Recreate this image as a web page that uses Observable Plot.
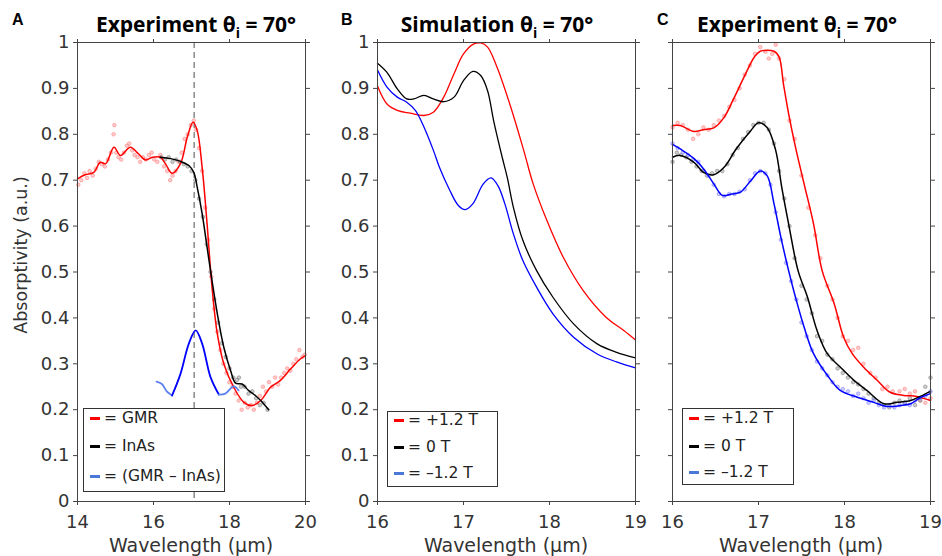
<!DOCTYPE html>
<html>
<head>
<meta charset="utf-8">
<script src="https://cdn.jsdelivr.net/npm/d3@7"></script>
<script src="https://cdn.jsdelivr.net/npm/@observablehq/plot@0.6"></script>
<style>
  html, body { margin: 0; padding: 0; background: #fff; }
  #root { position: relative; width: 942px; height: 556px; overflow: hidden; font-family: "DejaVu Sans", sans-serif; color: #333; }
  .pl { position: absolute; top: 0; }
  .title { position: absolute; font-family: "Open Sans", sans-serif; font-weight: 700; font-size: 21px; color: #000; white-space: nowrap; transform: translateX(-50%); line-height: 1; }
  .title sub { font-size: 14px; vertical-align: -6px; line-height: 0; }
  .letter { position: absolute; font-family: "Liberation Sans", sans-serif; font-weight: 700; font-size: 16px; color: #000; line-height: 1; }
  .xlab { position: absolute; font-size: 19px; color: #333; white-space: nowrap; transform: translateX(-50%); line-height: 1; }
  .ylab { position: absolute; font-size: 17.5px; color: #333; white-space: nowrap; transform: translate(-50%, -50%) rotate(-90deg); line-height: 1; }
  .legend { position: absolute; border: 1px solid #333; background: #fff; box-sizing: border-box; }
  .lrow { position: absolute; left: 0; font-size: 15.5px; color: #222; white-space: nowrap; line-height: 1; }
  .lrow i { display: inline-block; width: 10px; height: 3px; margin: 0 4px 0 6px; vertical-align: middle; }
</style>
</head>
<body>
<div id="root"></div>
<script>
// ---------- data ----------
// Panel A (Experiment, wavelength in µm, absorptivity)
const aGmrLine = [[14.0,0.703],[14.2,0.712],[14.43,0.717],[14.6,0.739],[14.74,0.736],[14.96,0.772],[15.13,0.754],[15.39,0.772],[15.61,0.757],[15.79,0.744],[15.97,0.750],[16.18,0.750],[16.32,0.735],[16.49,0.715],[16.71,0.736],[16.89,0.794],[17.04,0.826],[17.15,0.808],[17.28,0.728],[17.41,0.605],[17.54,0.467],[17.68,0.365],[17.85,0.300],[18.11,0.249],[18.38,0.216],[18.59,0.209],[18.82,0.220],[19.08,0.249],[19.34,0.264],[19.61,0.289],[19.87,0.311],[20.0,0.318]];
const aInAsLine = [[16.18,0.750],[16.45,0.747],[16.71,0.741],[16.93,0.732],[17.06,0.717],[17.15,0.685],[17.28,0.627],[17.41,0.554],[17.54,0.481],[17.68,0.409],[17.85,0.336],[18.03,0.285],[18.16,0.258],[18.33,0.256],[18.50,0.242],[18.68,0.231],[18.82,0.220],[19.03,0.200]];
const aDiffLine = [[16.08,0.261],[16.22,0.256],[16.35,0.240],[16.49,0.231],[16.71,0.278],[16.93,0.344],[17.11,0.373],[17.28,0.344],[17.50,0.271],[17.72,0.233],[17.89,0.235],[18.11,0.251],[18.24,0.242]];
const aGmrPts = [[14.02,0.69],[14.1,0.70],[14.18,0.715],[14.25,0.705],[14.32,0.72],[14.4,0.71],[14.48,0.725],[14.56,0.74],[14.64,0.735],[14.72,0.73],[14.8,0.745],[14.88,0.76],[14.95,0.80],[14.97,0.82],[15.02,0.76],[15.08,0.75],[15.15,0.745],[15.22,0.76],[15.3,0.775],[15.36,0.78],[15.44,0.765],[15.5,0.755],[15.58,0.75],[15.65,0.74],[15.72,0.75],[15.8,0.745],[15.88,0.755],[15.95,0.76],[16.02,0.745],[16.1,0.74],[16.18,0.755],[16.28,0.73],[16.36,0.72],[16.44,0.70],[16.5,0.71],[16.58,0.72],[16.66,0.74],[16.74,0.76],[16.82,0.79],[16.9,0.80],[16.98,0.82],[17.06,0.83],[17.12,0.81],[17.2,0.77],[17.28,0.72],[17.36,0.64],[17.44,0.57],[17.52,0.49],[17.6,0.42],[17.68,0.37],[17.76,0.33],[17.84,0.30],[17.92,0.28],[18.0,0.26],[18.08,0.25],[18.16,0.235],[18.24,0.22],[18.32,0.20],[18.4,0.215],[18.48,0.205],[18.56,0.21],[18.64,0.20],[18.72,0.215],[18.8,0.23],[18.88,0.25],[18.96,0.24],[19.04,0.26],[19.12,0.25],[19.2,0.27],[19.28,0.255],[19.36,0.27],[19.44,0.28],[19.52,0.29],[19.6,0.285],[19.68,0.30],[19.76,0.31],[19.84,0.33],[19.92,0.315],[19.98,0.32]];
const aInAsPts = [[16.2,0.75],[16.3,0.745],[16.4,0.75],[16.5,0.74],[16.6,0.745],[16.7,0.74],[16.8,0.735],[16.9,0.73],[17.0,0.72],[17.1,0.70],[17.2,0.66],[17.3,0.62],[17.4,0.56],[17.5,0.50],[17.6,0.44],[17.7,0.39],[17.8,0.345],[17.9,0.315],[18.0,0.29],[18.1,0.27],[18.2,0.265],[18.25,0.27],[18.3,0.25],[18.4,0.25],[18.5,0.235],[18.6,0.24],[18.7,0.225],[18.8,0.21],[18.9,0.215],[19.0,0.20]];
const aMarker = [17.07];

// Panel B (Simulation)
const bPlus = [[16.0,0.905],[16.11,0.866],[16.23,0.852],[16.38,0.846],[16.54,0.841],[16.65,0.848],[16.77,0.881],[16.89,0.932],[17.0,0.975],[17.12,0.997],[17.2,0.999],[17.28,0.990],[17.39,0.946],[17.55,0.859],[17.7,0.765],[17.81,0.692],[17.97,0.612],[18.16,0.532],[18.39,0.460],[18.66,0.401],[18.86,0.373],[19.0,0.352]];
const bZero = [[16.0,0.955],[16.11,0.935],[16.23,0.899],[16.34,0.877],[16.42,0.877],[16.54,0.885],[16.65,0.877],[16.77,0.871],[16.89,0.881],[17.0,0.917],[17.11,0.937],[17.2,0.928],[17.28,0.895],[17.35,0.830],[17.45,0.750],[17.51,0.705],[17.58,0.641],[17.69,0.569],[17.85,0.503],[18.04,0.445],[18.28,0.387],[18.55,0.344],[18.78,0.325],[19.0,0.313]];
const bMinus = [[16.0,0.940],[16.11,0.903],[16.23,0.881],[16.34,0.870],[16.44,0.852],[16.54,0.816],[16.65,0.765],[16.72,0.728],[16.84,0.678],[16.94,0.645],[17.02,0.636],[17.11,0.649],[17.23,0.692],[17.32,0.705],[17.4,0.688],[17.48,0.649],[17.58,0.583],[17.69,0.525],[17.85,0.467],[18.04,0.409],[18.28,0.358],[18.55,0.322],[18.78,0.304],[19.0,0.291]];

// Panel C (Experiment)
const cPlusLine = [[16.0,0.819],[16.09,0.819],[16.25,0.806],[16.36,0.810],[16.48,0.814],[16.6,0.837],[16.71,0.877],[16.83,0.924],[16.95,0.968],[17.02,0.981],[17.18,0.981],[17.24,0.968],[17.29,0.910],[17.35,0.845],[17.43,0.772],[17.53,0.692],[17.64,0.605],[17.74,0.503],[17.88,0.431],[17.99,0.358],[18.09,0.322],[18.22,0.293],[18.38,0.264],[18.53,0.238],[18.69,0.231],[18.84,0.229],[19.0,0.220]];
const cZeroLine = [[16.0,0.750],[16.09,0.754],[16.25,0.739],[16.36,0.717],[16.48,0.712],[16.6,0.728],[16.74,0.768],[16.91,0.808],[17.0,0.825],[17.1,0.815],[17.2,0.765],[17.27,0.685],[17.35,0.605],[17.46,0.503],[17.57,0.445],[17.68,0.373],[17.8,0.322],[17.95,0.293],[18.11,0.264],[18.26,0.242],[18.46,0.213],[18.61,0.216],[18.77,0.220],[18.88,0.229],[19.0,0.240]];
const cMinusLine = [[16.0,0.778],[16.09,0.768],[16.25,0.747],[16.36,0.725],[16.48,0.692],[16.58,0.667],[16.69,0.670],[16.79,0.674],[16.91,0.699],[17.02,0.720],[17.1,0.710],[17.18,0.649],[17.26,0.576],[17.35,0.503],[17.43,0.445],[17.53,0.380],[17.64,0.322],[17.8,0.275],[17.95,0.242],[18.15,0.227],[18.34,0.216],[18.5,0.207],[18.65,0.209],[18.77,0.213],[18.88,0.226],[19.0,0.235]];
const cPlusPts = [[16.0,0.815],[16.06,0.825],[16.12,0.82],[16.18,0.81],[16.24,0.79],[16.3,0.80],[16.36,0.815],[16.42,0.81],[16.48,0.82],[16.54,0.83],[16.6,0.84],[16.66,0.86],[16.72,0.875],[16.78,0.90],[16.84,0.93],[16.9,0.95],[16.96,0.975],[17.02,0.99],[17.08,0.98],[17.12,0.965],[17.16,0.975],[17.2,0.995],[17.24,0.965],[17.3,0.92],[17.36,0.83],[17.42,0.79],[17.5,0.71],[17.58,0.64],[17.66,0.58],[17.72,0.53],[17.8,0.47],[17.86,0.44],[17.92,0.40],[17.98,0.36],[18.04,0.35],[18.1,0.33],[18.16,0.335],[18.22,0.30],[18.3,0.28],[18.36,0.27],[18.44,0.245],[18.5,0.25],[18.56,0.24],[18.64,0.24],[18.7,0.245],[18.76,0.235],[18.82,0.24],[18.88,0.22],[18.94,0.215],[19.0,0.225]];
const cZeroPts = [[16.0,0.74],[16.05,0.76],[16.1,0.755],[16.16,0.75],[16.22,0.74],[16.28,0.73],[16.34,0.72],[16.4,0.71],[16.46,0.715],[16.52,0.72],[16.58,0.72],[16.64,0.735],[16.7,0.755],[16.76,0.77],[16.82,0.79],[16.88,0.805],[16.94,0.82],[17.0,0.825],[17.06,0.825],[17.12,0.81],[17.18,0.78],[17.24,0.72],[17.3,0.66],[17.36,0.60],[17.42,0.53],[17.5,0.47],[17.56,0.44],[17.62,0.41],[17.68,0.36],[17.74,0.35],[17.8,0.32],[17.86,0.31],[17.92,0.29],[17.98,0.28],[18.04,0.27],[18.1,0.26],[18.16,0.255],[18.22,0.245],[18.28,0.235],[18.34,0.225],[18.4,0.215],[18.46,0.21],[18.52,0.205],[18.58,0.215],[18.64,0.22],[18.7,0.215],[18.76,0.225],[18.82,0.21],[18.88,0.22],[18.94,0.25],[19.0,0.27]];
const cMinusPts = [[16.0,0.78],[16.06,0.77],[16.12,0.76],[16.18,0.755],[16.24,0.745],[16.3,0.74],[16.36,0.72],[16.42,0.71],[16.48,0.69],[16.54,0.67],[16.6,0.665],[16.66,0.67],[16.72,0.67],[16.78,0.675],[16.84,0.68],[16.9,0.70],[16.96,0.715],[17.02,0.72],[17.08,0.715],[17.14,0.69],[17.2,0.63],[17.26,0.57],[17.32,0.52],[17.38,0.48],[17.44,0.44],[17.5,0.39],[17.56,0.36],[17.62,0.33],[17.68,0.305],[17.74,0.29],[17.8,0.275],[17.86,0.26],[17.92,0.25],[17.98,0.245],[18.04,0.24],[18.1,0.23],[18.16,0.235],[18.22,0.225],[18.28,0.215],[18.34,0.22],[18.4,0.21],[18.46,0.205],[18.52,0.21],[18.58,0.205],[18.64,0.21],[18.7,0.215],[18.76,0.21],[18.82,0.22],[18.88,0.225],[18.94,0.23],[19.0,0.24]];

// ticks & labels
const yTicks = [0,0.1,0.2,0.3,0.4,0.5,0.6,0.7,0.8,0.9,1];
const aXTicks = [14,16,18,20];
const bcXTicks = [16,17,18,19];
const titles = ["Experiment θ", "Simulation θ", "Experiment θ"];
const letters = ["A","B","C"];
const xLabel = "Wavelength (μm)";
const yLabel = "Absorptivity (a.u.)";
const legendA = [["= GMR","#ff0000"],["= InAs","#000000"],["= (GMR – InAs)","#4a78d8"]];
const legendBC = [["= +1.2 T","#ff0000"],["= 0 T","#000000"],["= –1.2 T","#4a78d8"]];

// ---------- drawing ----------
const root = document.getElementById("root");
const yFmt = d => d === 0 ? "0" : d === 1 ? "1" : d.toFixed(1);
const xFmt = d => String(d);
const blank = () => "";

function axes(xt, showY) {
  const common = {tickSize: 4, stroke: "#444", fill: "#333", label: null};
  return [
    Plot.frame({stroke: "#444"}),
    Plot.axisX({...common, ticks: xt, tickPadding: 10, tickFormat: xFmt}),
    Plot.axisX({...common, anchor: "top", ticks: xt, tickFormat: blank}),
    Plot.axisY({...common, ticks: yTicks, tickPadding: 4, tickFormat: showY ? yFmt : blank}),
    Plot.axisY({...common, anchor: "right", ticks: yTicks, tickFormat: blank})
  ];
}

function makePlot(cfg, marks) {
  const p = Plot.plot({
    width: cfg.width, height: 556,
    marginLeft: cfg.ml, marginRight: cfg.mr, marginTop: 42, marginBottom: 55,
    x: {domain: cfg.xd},
    y: {domain: [0, 1]},
    style: {fontFamily: "DejaVu Sans", fontSize: "18px", color: "#333", background: "transparent", overflow: "visible"},
    marks: [...marks, ...axes(cfg.xt, cfg.showY)]
  });
  p.classList.add("pl");
  p.style.left = cfg.left + "px";
  root.appendChild(p);
}

const line = (d, stroke, w = 1.5, extra = {}) => Plot.line(d, {x: d => d[0], y: d => d[1], stroke, strokeWidth: w, curve: "catmull-rom", ...extra});
const dots = (d, fill, stroke) => Plot.dot(d, {x: d => d[0], y: d => d[1], r: 1.8, fill, fillOpacity: 0.45, stroke, strokeOpacity: 0.7, strokeWidth: 0.7});

// Panel A
makePlot({left: 0, width: 320, ml: 77, mr: 15, xd: [14, 20], xt: aXTicks, showY: true}, [
  Plot.ruleX(aMarker, {stroke: "#777", strokeWidth: 1.3, strokeDasharray: "6,4"}),
  dots(aGmrPts, "#ff9090", "#ff7070"),
  dots(aInAsPts, "#909090", "#707070"),
  line(aGmrLine, "#ff0000"),
  line(aInAsLine, "#000000"),
  line(aDiffLine.filter(d => d[0] <= 16.5), "#5a80f0", 1.8),
  line(aDiffLine.filter(d => d[0] >= 16.49 && d[0] <= 17.72), "#0000ff", 1.8),
  line(aDiffLine.filter(d => d[0] >= 17.72), "#5a80f0", 1.8)
]);

// Panel B
makePlot({left: 320, width: 320, ml: 57, mr: 5, xd: [16, 19], xt: bcXTicks, showY: true}, [
  line(bPlus, "#ff0000", 1.3),
  line(bZero, "#000000", 1.3),
  line(bMinus, "#0000ff", 1.3)
]);

// Panel C
makePlot({left: 640, width: 302, ml: 32, mr: 12, xd: [16, 19], xt: bcXTicks, showY: false}, [
  dots(cPlusPts, "#ff9090", "#ff7070"),
  dots(cZeroPts, "#909090", "#707070"),
  dots(cMinusPts, "#9090ff", "#7070ff"),
  line(cPlusLine, "#ff0000"),
  line(cZeroLine, "#000000"),
  line(cMinusLine, "#0000ff")
]);

// ---------- text overlays ----------
function add(cls, html, style) {
  const el = document.createElement("div");
  el.className = cls;
  el.innerHTML = html;
  Object.assign(el.style, style);
  root.appendChild(el);
  return el;
}
const centers = [191, 506, 801];
const titleCenters = [196, 497, 797];
const letterX = [12, 341, 657];
titles.forEach((t, i) => add("title", `${t}<sub>i</sub> = 70°`, {left: titleCenters[i] + "px", top: "14px"}));
letters.forEach((t, i) => add("letter", t, {left: letterX[i] + "px", top: "12px"}));
centers.forEach(c => add("xlab", xLabel, {left: c + "px", top: "536px"}));
add("ylab", yLabel, {left: "22px", top: "255px"});

function legend(items, box, rows) {
  const lg = add("legend", "", {left: box[0] + "px", top: box[1] + "px", width: box[2] + "px", height: box[3] + "px"});
  items.forEach(([label, col], i) => {
    const r = document.createElement("div");
    r.className = "lrow";
    r.style.top = (rows[i] - box[1] - 9) + "px";
    r.innerHTML = `<i style="background:${col}"></i>${label}`;
    lg.appendChild(r);
  });
}
legend(legendA, [83, 408, 142, 84], [419, 447, 477]);
legend(legendBC, [387, 411, 111, 76], [421, 448, 474]);
legend(legendBC, [682, 408, 112, 77], [419, 447, 473]);
</script>
</body>
</html>
